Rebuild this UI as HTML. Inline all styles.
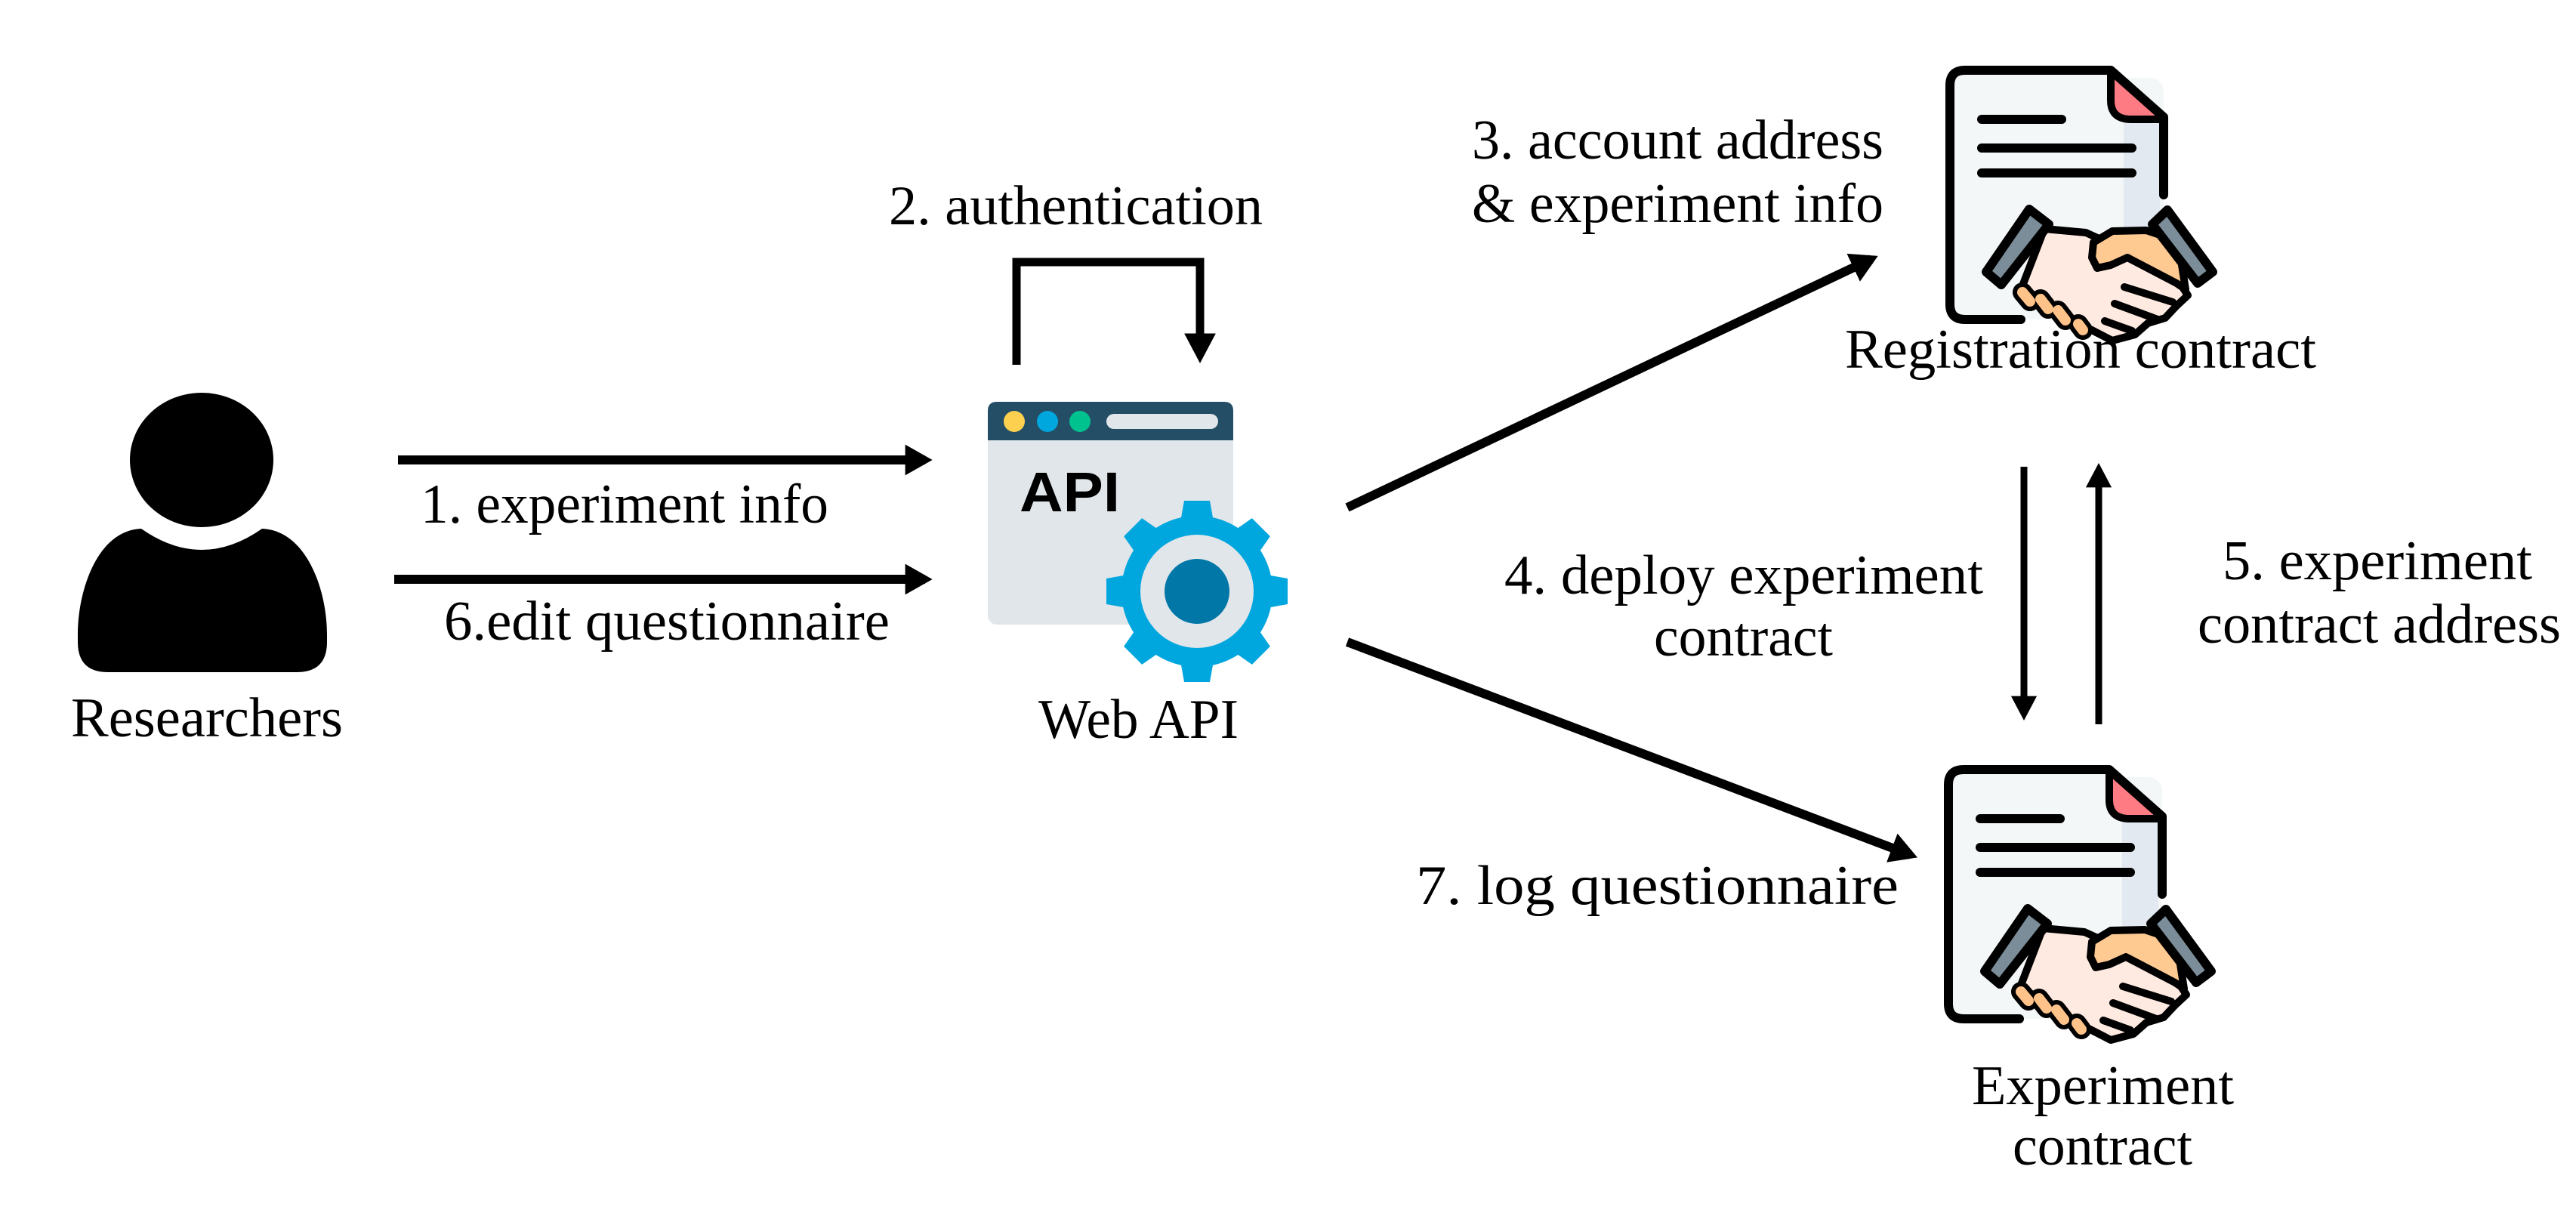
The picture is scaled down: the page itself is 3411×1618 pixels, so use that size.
<!DOCTYPE html>
<html><head><meta charset="utf-8"><style>
html,body{margin:0;padding:0;background:#fff;}
svg{display:block;}
text{font-family:"Liberation Serif",serif;fill:#000;}
</style></head><body>
<svg width="3411" height="1618" viewBox="0 0 3411 1618" xmlns="http://www.w3.org/2000/svg">
<defs>
<marker id="ah" markerWidth="4" markerHeight="4" refX="2.2" refY="2" orient="auto" markerUnits="strokeWidth">
<path d="M0,0.3 L3,2 L0,3.7 Z" fill="#000"/>
</marker>
<marker id="ah2" markerWidth="5" markerHeight="5" refX="2.6" refY="2.5" orient="auto" markerUnits="strokeWidth">
<path d="M0,0.6 L3.6,2.5 L0,4.4 Z" fill="#000"/>
</marker>
<g id="contract">
  <rect x="0" y="10" width="283" height="320" rx="18" fill="#f3f7f8"/>
  <path d="M0,20 Q0,0 20,0 L215,0 L283,62 L283,165" fill="#f3f7f8" stroke="none"/>
  <rect x="230" y="62" width="48" height="230" fill="#e3e9f0"/>
  <path d="M213,4 L213,40 Q213,65 240,65 L280,65 Z" fill="#ff7b84"/>
  <path d="M94,330 L20,330 Q0,330 0,310 L0,20 Q0,0 20,0 L213,0 L283,62 L283,165" fill="none" stroke="#000" stroke-width="12" stroke-linejoin="round" stroke-linecap="round"/>
  <path d="M213,2 L213,40 Q213,65 240,65 L281,65" fill="none" stroke="#000" stroke-width="10" stroke-linejoin="round"/>
  <g stroke="#000" stroke-width="12" stroke-linecap="round">
    <line x1="42" y1="65" x2="148" y2="65"/>
    <line x1="42" y1="103" x2="241" y2="103"/>
    <line x1="42" y1="136" x2="241" y2="136"/>
  </g>
  <g stroke="#000" stroke-width="10" stroke-linejoin="round" stroke-linecap="round">
    <path d="M125,210 L180,215 L235,240 L300,275 L315,298 L300,312 L285,328 L262,335 L245,350 L215,358 L180,340 L95,288 Z" fill="#ffeae2"/>
    <path d="M190,228 L215,213 L260,212 L290,222 L305,245 L312,290 L300,282 L235,248 L213,258 L195,262 L188,248 Z" fill="#ffc992"/>
    <path d="M105,184 L131,204 L68,284 L48,267 Z" fill="#7b8d99" stroke-width="12"/>
    <path d="M268,204 L288,185 L348,267 L328,282 Z" fill="#7b8d99" stroke-width="12"/>
    <line x1="231" y1="287" x2="295" y2="307"/>
    <line x1="218" y1="309" x2="275" y2="330"/>
    <line x1="205" y1="332" x2="241" y2="345"/>
  </g>
  <g stroke="#000" stroke-width="26" stroke-linecap="round">
    <line x1="96" y1="294" x2="106" y2="306"/>
    <line x1="120" y1="303" x2="130" y2="316"/>
    <line x1="143" y1="318" x2="153" y2="331"/>
    <line x1="170" y1="336" x2="176" y2="344"/>
  </g>
  <g stroke="#ffc38a" stroke-width="14" stroke-linecap="round">
    <line x1="96" y1="294" x2="106" y2="306"/>
    <line x1="120" y1="303" x2="130" y2="316"/>
    <line x1="143" y1="318" x2="153" y2="331"/>
    <line x1="170" y1="336" x2="176" y2="344"/>
  </g>
</g>
</defs>

<!-- Person -->
<ellipse cx="267" cy="609" rx="95" ry="89" fill="#000"/>
<path d="M187,700 Q267,756 347,700 C405,702 433,780 433,840 L433,850 Q433,890 393,890 L143,890 Q103,890 103,850 L103,840 C103,780 130,702 187,700 Z" fill="#000"/>
<text x="94" y="975" font-size="74" textLength="360" lengthAdjust="spacingAndGlyphs">Researchers</text>

<!-- Arrows 1 & 6 -->
<line x1="527" y1="609" x2="1225" y2="609" stroke="#000" stroke-width="12" marker-end="url(#ah)"/>
<line x1="522" y1="767" x2="1225" y2="767" stroke="#000" stroke-width="12" marker-end="url(#ah)"/>
<text x="557" y="692" font-size="74" textLength="540" lengthAdjust="spacingAndGlyphs">1. experiment info</text>
<text x="588" y="847" font-size="74" textLength="590" lengthAdjust="spacingAndGlyphs">6.edit questionnaire</text>

<!-- Authentication loop -->
<path d="M1346,483 L1346,347 L1589,347 L1589,470" fill="none" stroke="#000" stroke-width="11" marker-end="url(#ah2)"/>
<text x="1177" y="297" font-size="74" textLength="495" lengthAdjust="spacingAndGlyphs">2. authentication</text>

<!-- Web API icon -->
<rect x="1308" y="532" width="325" height="295" rx="12" fill="#e1e6ea"/>
<path d="M1308,583 L1308,544 Q1308,532 1320,532 L1621,532 Q1633,532 1633,544 L1633,583 Z" fill="#234e66"/>
<circle cx="1343" cy="558" r="14" fill="#fdd04f"/>
<circle cx="1387" cy="558" r="14" fill="#00a6de"/>
<circle cx="1430" cy="558" r="14" fill="#00c28e"/>
<rect x="1465" y="548" width="148" height="20" rx="10" fill="#e1e6ea"/>
<text x="1350" y="677" font-size="74" font-weight="bold" style="font-family:'Liberation Sans',sans-serif" fill="#234e66" textLength="133" lengthAdjust="spacingAndGlyphs">API</text>
<g transform="translate(1585,783)" fill="#00a6de">
  <circle r="100"/>
  <g id="tooth"><path d="M-22,-92 L-17,-120 L17,-120 L22,-92 Z"/></g>
  <use href="#tooth" transform="rotate(45)"/>
  <use href="#tooth" transform="rotate(90)"/>
  <use href="#tooth" transform="rotate(135)"/>
  <use href="#tooth" transform="rotate(180)"/>
  <use href="#tooth" transform="rotate(225)"/>
  <use href="#tooth" transform="rotate(270)"/>
  <use href="#tooth" transform="rotate(315)"/>
  <circle r="75" fill="#e1e6ea"/>
  <circle r="43" fill="#0077a6"/>
</g>
<text x="1375" y="977" font-size="74" textLength="265" lengthAdjust="spacingAndGlyphs">Web API</text>

<!-- Arrow 3 -->
<line x1="1784" y1="672" x2="2478" y2="343" stroke="#000" stroke-width="12" marker-end="url(#ah)"/>
<text x="1949" y="210" font-size="74" textLength="545" lengthAdjust="spacingAndGlyphs">3. account address</text>
<text x="1949" y="294" font-size="74" textLength="545" lengthAdjust="spacingAndGlyphs">&amp; experiment info</text>

<!-- Arrow 7 -->
<line x1="1784" y1="850" x2="2530" y2="1132" stroke="#000" stroke-width="12" marker-end="url(#ah)"/>
<text x="1875" y="1197" font-size="74" textLength="639" lengthAdjust="spacingAndGlyphs">7. log questionnaire</text>

<!-- Registration contract -->
<use href="#contract" transform="translate(2582,93)"/>
<text x="2443" y="487" font-size="74" textLength="624" lengthAdjust="spacingAndGlyphs">Registration contract</text>

<!-- Vertical arrows 4 & 5 -->
<line x1="2680" y1="618" x2="2680" y2="945" stroke="#000" stroke-width="9" marker-end="url(#ah2)"/>
<line x1="2779" y1="959" x2="2779" y2="622" stroke="#000" stroke-width="9" marker-end="url(#ah2)"/>
<text x="1992" y="786" font-size="74" textLength="634" lengthAdjust="spacingAndGlyphs">4. deploy experiment</text>
<text x="2190" y="868" font-size="74" textLength="237" lengthAdjust="spacingAndGlyphs">contract</text>
<text x="2943" y="767" font-size="74" textLength="410" lengthAdjust="spacingAndGlyphs">5. experiment</text>
<text x="2910" y="851" font-size="74" textLength="481" lengthAdjust="spacingAndGlyphs">contract address</text>

<!-- Experiment contract -->
<use href="#contract" transform="translate(2580,1019)"/>
<text x="2611" y="1462" font-size="74" textLength="347" lengthAdjust="spacingAndGlyphs">Experiment</text>
<text x="2665" y="1542" font-size="74" textLength="238" lengthAdjust="spacingAndGlyphs">contract</text>
</svg>
</body></html>
